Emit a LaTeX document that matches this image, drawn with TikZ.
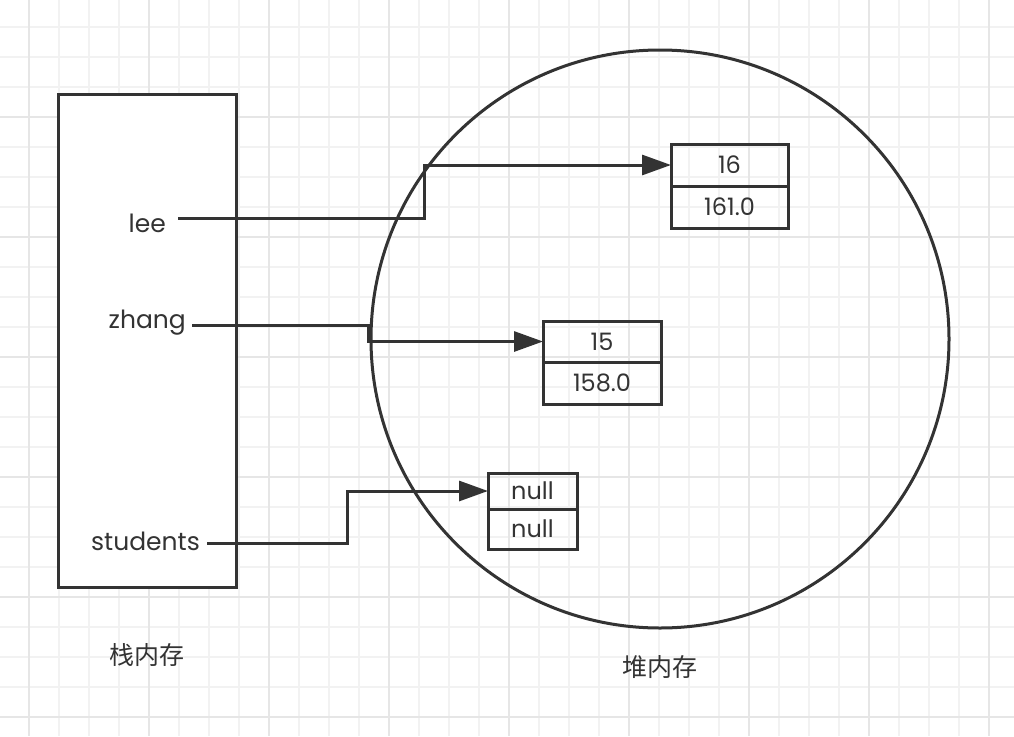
\documentclass[tikz,border=0pt]{standalone}
\usepackage{fontspec}
\setmainfont{Poppins}
\newfontfamily\cjk{Noto Sans CJK SC}
\usetikzlibrary{arrows.meta}
\definecolor{ink}{HTML}{333333}
\definecolor{gridminor}{HTML}{F2F2F2}
\definecolor{gridmajor}{HTML}{E6E6E6}
\tikzset{
  minorline/.style={gridminor, line width=1.5pt},
  majorline/.style={gridmajor, line width=1.5pt},
  outline/.style={draw=ink, line width=3pt},
  cell/.style={draw=ink, line width=3pt, rectangle, inner sep=0pt, outer sep=0pt, text=ink,
    font=\fontsize{24}{26}\selectfont},
  lbl/.style={text=ink, inner sep=0pt, font=\fontsize{25}{28}\selectfont},
  cjklbl/.style={text=ink, inner sep=0pt, font=\cjk\fontsize{25}{28}\selectfont},
  link/.style={draw=ink, line width=3pt, -{Triangle[length=29pt,width=20pt]}},
}
\begin{document}
\begin{tikzpicture}[x=1pt,y=-1pt]
\useasboundingbox (0,0) rectangle (1014,736);
\fill[white] (0,0) rectangle (1014,736);
% grid
\foreach \x in {29,59,...,1013} \draw[minorline] (\x,0) -- (\x,736);
\foreach \y in {27,57,...,735} \draw[minorline] (0,\y) -- (1014,\y);
\foreach \x in {29,149,...,1013} \draw[majorline] (\x,0) -- (\x,736);
\foreach \y in {117,237,...,735} \draw[majorline] (0,\y) -- (1014,\y);
% stack
\node[outline, rectangle, fill=white, minimum width=178pt, minimum height=493pt, inner sep=0pt] (stack) at (147,340.5) {};
% heap
\node[outline, circle, minimum size=578pt, inner sep=0pt] (heap) at (660,339) {};
% labels
\node[lbl, anchor=east] (lee) at (166,223) {lee};
\node[lbl, anchor=east] (zhang) at (186,323) {zhang};
\node[lbl, anchor=east] (students) at (200,541) {students};
\coordinate (leeS) at (178,218);
\coordinate (zhangS) at (192,325);
\coordinate (studentsS) at (207,543);
% objects
\node[cell, minimum width=117pt, minimum height=42pt] (a1) at (729.5,165) {16};
\node[cell, minimum width=117pt, minimum height=42pt, anchor=north] (a2) at (a1.south) {161.0};
\node[cell, minimum width=118pt, minimum height=41pt] (b1) at (602,341.5) {15};
\node[cell, minimum width=118pt, minimum height=42pt, anchor=north] (b2) at (b1.south) {158.0};
\node[cell, minimum width=89pt, minimum height=36pt] (c1) at (532.5,491) {null};
\node[cell, minimum width=89pt, minimum height=40pt, anchor=north] (c2) at (c1.south) {null};
% connectors
\draw[link] (leeS) -- (424,218) |- (a1.west);
\draw[link] (zhangS) -- (368,325) |- (b1.west);
\draw[link] (studentsS) -- (347,543) |- (c1.west);
% captions
\node[cjklbl] (stacklbl) at (147,655) {栈内存};
\node[cjklbl] (heaplbl) at (660,667) {堆内存};
\end{tikzpicture}
\end{document}
